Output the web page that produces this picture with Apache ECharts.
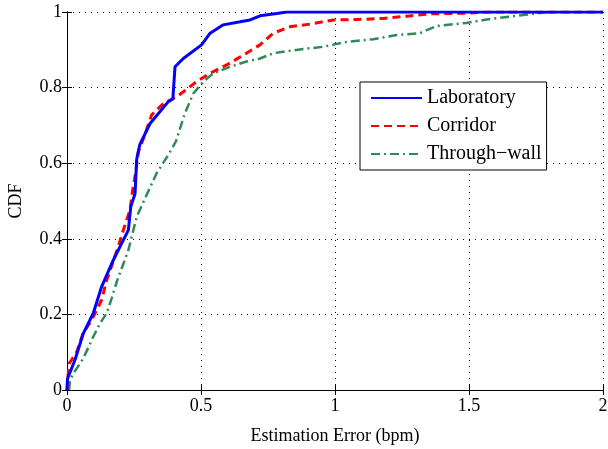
<html>
<head>
    <script src="https://cdn.jsdelivr.net/npm/echarts@6/dist/echarts.min.js"></script>
</head>
<body style="margin:0;">
    <div id="main" style="width:608px;height:449px;"></div>
    <script>
        // 读图估计的数据点 [误差, CDF]
        var labData = [[0, 0], [0.002, 0.03], [0.03, 0.08], [0.061, 0.15], [0.098, 0.203], [0.129, 0.273],
            [0.173, 0.344], [0.204, 0.388], [0.229, 0.423], [0.238, 0.485], [0.254, 0.52], [0.26, 0.61],
            [0.272, 0.65], [0.31, 0.705], [0.378, 0.763], [0.395, 0.77], [0.403, 0.855], [0.434, 0.877],
            [0.502, 0.913], [0.534, 0.944], [0.583, 0.966], [0.646, 0.974], [0.683, 0.979], [0.72, 0.99],
            [0.782, 0.996], [0.82, 1], [2, 1]];
        var corData = [[0, 0], [0.003, 0.03], [0.008, 0.07], [0.036, 0.1], [0.06, 0.15], [0.092, 0.185],
            [0.129, 0.238], [0.148, 0.29], [0.191, 0.379], [0.21, 0.423], [0.235, 0.476], [0.245, 0.529],
            [0.257, 0.578], [0.266, 0.63], [0.285, 0.665], [0.316, 0.728], [0.36, 0.758], [0.41, 0.776],
            [0.484, 0.816], [0.534, 0.838], [0.596, 0.86], [0.658, 0.886], [0.72, 0.913], [0.77, 0.944],
            [0.832, 0.961], [0.907, 0.968], [0.994, 0.979], [1.08, 0.98], [1.18, 0.983], [1.268, 0.989],
            [1.354, 0.995], [1.49, 0.997], [1.58, 1], [2, 1]];
        var wallData = [[0.008, 0], [0.011, 0.026], [0.024, 0.044], [0.061, 0.084], [0.098, 0.141],
            [0.123, 0.176], [0.148, 0.203], [0.167, 0.243], [0.185, 0.285], [0.229, 0.37], [0.26, 0.458],
            [0.297, 0.516], [0.334, 0.573], [0.378, 0.622], [0.406, 0.657], [0.44, 0.732], [0.472, 0.785],
            [0.509, 0.816], [0.546, 0.838], [0.608, 0.855], [0.67, 0.869], [0.72, 0.877], [0.77, 0.891],
            [0.869, 0.901], [0.956, 0.908], [1.043, 0.921], [1.143, 0.928], [1.23, 0.939], [1.317, 0.944],
            [1.379, 0.963], [1.49, 0.971], [1.566, 0.98], [1.653, 0.988], [1.753, 0.996], [1.795, 1]];
        var seriesNames = ['Laboratory', 'Corridor', 'Through\u2212wall'];

        var myChart = echarts.init(document.getElementById('main'));
        var font = 'Liberation Serif, Times New Roman, serif';
        var gridLine = { show: true, lineStyle: { color: '#000', type: [1, 5], width: 1 } };

        var option = {
            animation: false,
            backgroundColor: '#fff',
            textStyle: { fontFamily: font },
            grid: { left: 67, right: 5, top: 12, bottom: 59, containLabel: false, outerBoundsMode: 'none' },
            legend: {
                orient: 'vertical',
                left: 360, top: 82,
                padding: [6, 5, 6, 10],
                itemGap: 8,
                itemWidth: 51, itemHeight: 18,
                itemStyle: { opacity: 0 },
                borderColor: '#000', borderWidth: 1,
                backgroundColor: '#fff',
                textStyle: { fontFamily: font, fontSize: 20, color: '#000' },
                data: seriesNames
            },
            xAxis: [{
                type: 'value', min: 0, max: 2, interval: 0.5,
                name: 'Estimation Error (bpm)', nameLocation: 'middle', nameGap: 37,
                nameTextStyle: { fontFamily: font, fontSize: 18, color: '#000' },
                axisLine: { lineStyle: { color: '#000' } },
                axisTick: { inside: true, length: 5, lineStyle: { color: '#000' } },
                axisLabel: { color: '#000', fontSize: 18, fontFamily: font, margin: 7 },
                splitLine: gridLine
            }, {
                type: 'value', min: 0, max: 2, interval: 0.5, position: 'top',
                axisLine: { show: true, lineStyle: { color: '#000' } },
                axisTick: { inside: true, length: 5, lineStyle: { color: '#000' } },
                axisLabel: { show: false }, splitLine: { show: false }
            }],
            yAxis: [{
                type: 'value', min: 0, max: 1, interval: 0.2,
                name: 'CDF', nameLocation: 'middle', nameGap: 42,
                nameTextStyle: { fontFamily: font, fontSize: 18, color: '#000' },
                axisLine: { show: true, lineStyle: { color: '#000' } },
                axisTick: { show: true, inside: true, length: 5, lineStyle: { color: '#000' } },
                axisLabel: { color: '#000', fontSize: 18, fontFamily: font, margin: 5,
                    formatter: function (v) { return String(Math.round(v * 10) / 10); } },
                splitLine: gridLine
            }, {
                type: 'value', min: 0, max: 1, interval: 0.2, position: 'right',
                axisLine: { show: true, lineStyle: { color: '#000' } },
                axisTick: { show: true, inside: true, length: 5, lineStyle: { color: '#000' } },
                axisLabel: { show: false }, splitLine: { show: false }
            }],
            series: [{
                name: seriesNames[0], type: 'line', data: labData,
                showSymbol: false, symbol: 'none', z: 4,
                lineStyle: { color: '#0000ff', width: 3 }, itemStyle: { color: '#0000ff' }
            }, {
                name: seriesNames[1], type: 'line', data: corData,
                showSymbol: false, symbol: 'none', z: 3,
                lineStyle: { color: '#ff0000', width: 3, type: [8, 5] }, itemStyle: { color: '#ff0000' }
            }, {
                name: seriesNames[2], type: 'line', data: wallData,
                showSymbol: false, symbol: 'none', z: 2,
                lineStyle: { color: '#2e8b57', width: 2.5, type: [9, 4, 2, 4] }, itemStyle: { color: '#2e8b57' }
            }]
        };
        myChart.setOption(option);
    </script>
</body>
</html>
